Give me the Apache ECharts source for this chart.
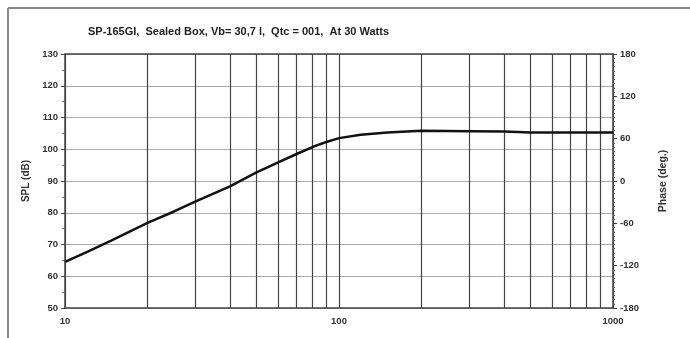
<!DOCTYPE html>
<html>
<head>
    <meta charset="UTF-8"/>
    <title>SP-165GI</title>
    <script type="text/javascript" src="https://cdn.jsdelivr.net/npm/echarts@6/dist/echarts.min.js"></script>
    <style>
        html, body { margin: 0; padding: 0; background: #fff; }
    </style>
</head>
<body>
<div id="main" style="width: 690px;height:338px;"></div>

<script type="text/javascript">
    // SPL response
    var freqs = [10, 12, 15, 20, 25, 30, 40, 50, 60, 70, 80, 90, 100, 120, 150, 200, 300, 400, 500, 700, 1000];
    var spl = [64.5, 67.6, 71.5, 76.8, 80.4, 83.6, 88.3, 92.7, 95.9, 98.5, 100.7, 102.3, 103.5, 104.6, 105.3, 105.8, 105.7, 105.6, 105.3, 105.3, 105.3];
    // vertical grid lines between the decades
    var gridFreqs = [20, 30, 40, 50, 60, 70, 80, 90, 200, 300, 400, 500, 600, 700, 800, 900];

    var lblFont = { fontFamily: 'Liberation Sans', fontWeight: 'bold', fontSize: 9.5, color: '#333' };

    var myChart = echarts.init(document.getElementById('main'));

    var option = {
        animation: false,
        backgroundColor: '#fff',
        title: {
            text: 'SP-165GI,  Sealed Box, Vb= 30,7 l,  Qtc = 001,  At 30 Watts',
            left: 83,
            top: 21,
            textStyle: { fontFamily: 'Liberation Sans', fontWeight: 'bold', fontSize: 11, color: '#222' }
        },
        graphic: [
            { type: 'line', shape: { x1: 8, y1: 8, x2: 8, y2: 338 }, style: { stroke: '#888', lineWidth: 2 } },
            { type: 'line', shape: { x1: 8, y1: 8, x2: 690, y2: 8 }, style: { stroke: '#888', lineWidth: 2 } }
        ],
        grid: { left: 65, right: 77, top: 54, bottom: 30 },
        xAxis: [{
            type: 'log',
            logBase: 10,
            min: 10,
            max: 1000,
            axisLine: { onZero: false, lineStyle: { color: '#444', width: 1.5 } },
            axisTick: { show: false },
            axisLabel: Object.assign({ margin: 8, formatter: function (v) { return String(v); } }, lblFont),
            splitLine: { show: true, lineStyle: { color: '#444', width: 1.2 } }
        }, {
            type: 'log',
            logBase: 10,
            min: 10,
            max: 1000,
            position: 'top',
            axisLine: { show: true, onZero: false, lineStyle: { color: '#444', width: 1.5 } },
            axisTick: { show: false },
            axisLabel: { show: false },
            splitLine: { show: false }
        }],
        yAxis: [{
            type: 'value',
            min: 50,
            max: 130,
            interval: 10,
            name: 'SPL (dB)',
            nameLocation: 'middle',
            nameGap: 29,
            nameTextStyle: { fontFamily: 'Liberation Sans', fontWeight: 'bold', fontSize: 10, color: '#333' },
            axisLine: { show: true, lineStyle: { color: '#444', width: 1.5 } },
            axisTick: { show: true, length: 4, lineStyle: { color: '#444' } },
            minorTick: { show: true, splitNumber: 2, length: 3, lineStyle: { color: '#666' } },
            axisLabel: Object.assign({ margin: 7 }, lblFont),
            splitLine: { show: true, lineStyle: { color: '#aaa', width: 1 } }
        }, {
            type: 'value',
            min: -180,
            max: 180,
            interval: 60,
            position: 'right',
            name: 'Phase (deg.)',
            nameLocation: 'middle',
            nameGap: 45,
            nameRotate: 90,
            nameTextStyle: { fontFamily: 'Liberation Sans', fontWeight: 'bold', fontSize: 10.5, color: '#333' },
            axisLine: { show: true, lineStyle: { color: '#444', width: 1.5 } },
            axisTick: { show: true, length: 4, lineStyle: { color: '#444' } },
            minorTick: { show: true, splitNumber: 10, length: 2, lineStyle: { color: '#666' } },
            axisLabel: Object.assign({ margin: 7 }, lblFont),
            splitLine: { show: false }
        }],
        series: [{
            name: 'SPL',
            type: 'line',
            xAxisIndex: 0,
            yAxisIndex: 0,
            smooth: false,
            symbol: 'none',
            lineStyle: { color: '#111', width: 2.5, join: 'round' },
            data: freqs.map(function (f, i) { return [f, spl[i]]; }),
            markLine: {
                silent: true,
                symbol: 'none',
                label: { show: false },
                lineStyle: { color: '#444', width: 1.2, type: 'solid' },
                data: gridFreqs.map(function (f) { return { xAxis: f }; })
            },
            z: 5
        }]
    };
    myChart.setOption(option);
</script>
</body>
</html>
